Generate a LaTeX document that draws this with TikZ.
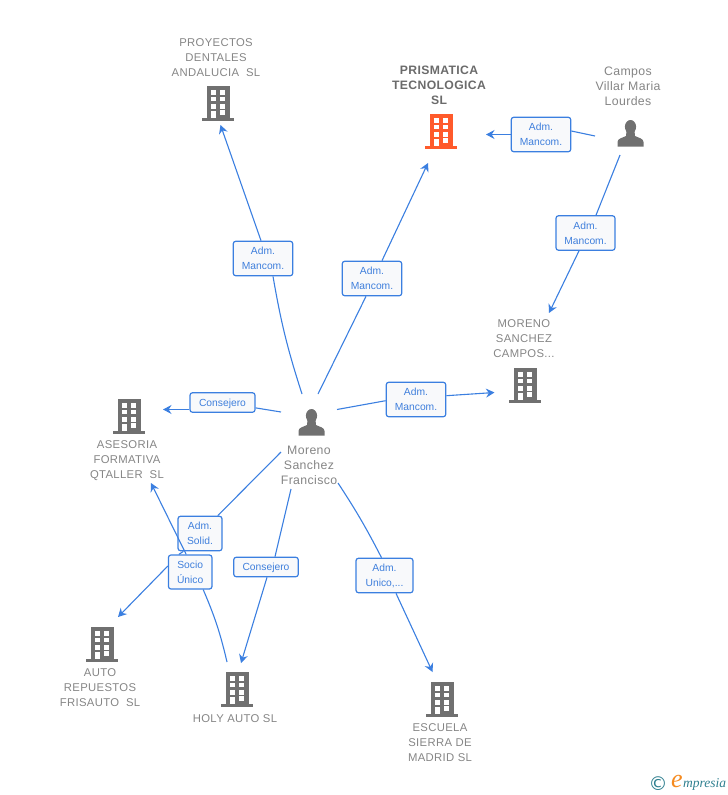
\documentclass[tikz,border=0pt]{standalone}
\usepackage{fontspec}
\setmainfont{Liberation Sans}
\newfontfamily\spaced[LetterSpace=3]{Liberation Sans}
\newfontfamily\serifit{Liberation Serif}
\newfontfamily\symfont{DejaVu Sans}
\usetikzlibrary{arrows.meta}
\definecolor{edgeblue}{HTML}{3B7FE0}
\definecolor{labelblue}{HTML}{3F7FDC}
\definecolor{txtgray}{HTML}{858585}
\definecolor{icongray}{HTML}{707070}
\definecolor{iconred}{HTML}{FF5A2B}
\definecolor{boxfill}{HTML}{F8F9FB}
\definecolor{teal}{HTML}{2F7F8F}
\definecolor{orng}{HTML}{F58A1F}
\newcommand{\lt}[1]{\raisebox{-3.9pt}[0pt][0pt]{#1}}
\tikzset{
  x=1pt,y=-1pt,
  edge/.style={draw=edgeblue,line width=1.1pt},
  arrowedge/.style={edge,-{Stealth[length=8.5pt,width=9pt,inset=2.8pt]}},
  lab/.style={draw=edgeblue,line width=1.2pt,rounded corners=2.5pt,fill=boxfill,inner sep=0pt,
     text=labelblue,align=center,font=\fontsize{10.3}{15}\selectfont},
  ent/.style={text=txtgray,align=center,inner sep=0pt,font=\spaced\fontsize{11.3}{15}\selectfont},
  entm/.style={ent,font=\spaced\fontsize{12.3}{15}\selectfont},
  entb/.style={ent,font=\spaced\bfseries\fontsize{12.2}{15}\selectfont,text=black!58},
  iconbox/.style={inner sep=0pt,minimum width=23pt,minimum height=32pt,anchor=north}
}
% building: name, centre x, top y, colour
\newcommand{\bldg}[4]{%
  \node[iconbox,fill=#4] (#1) at (#2,#3) {};
  \begin{scope}[shift={(#2,#3)}]
    \fill[#4] (-15.7,32) rectangle (15.7,34.6);
    \foreach \yy in {4,10.7,18}{
      \fill[white] (-7.5,\yy) rectangle (-2.5,\yy+4.5);
      \fill[white] (2,\yy) rectangle (7,\yy+4.5);
    }
    \fill[white] (-7.5,24.5) rectangle (-2.5,32);
    \fill[white] (2,24) rectangle (7,28.5);
  \end{scope}}
% person: name, centre x, top y
\newcommand{\persona}[3]{%
  \node[inner sep=0pt,minimum width=26pt,minimum height=27pt,anchor=north] (#1) at (#2,#3) {};
  \begin{scope}[shift={(#2,#3)}]
    \fill[icongray] (0,6.8) ellipse [x radius=5.6,y radius=6.8];
    \fill[icongray] (-13,26.5) -- (-13,22) .. controls (-13,18.5) and (-8,17.8) .. (-4.5,16) -- (-4,11)
      -- (4,11) -- (4.5,16) .. controls (8,17.8) and (13,18.5) .. (13,22) -- (13,26.5) -- cycle;
  \end{scope}}
\begin{document}
\begin{tikzpicture}
\useasboundingbox (0,0) rectangle (728,795);
% icons
\bldg{proy}{218}{86}{icongray}
\bldg{pris}{441}{114}{iconred}
\bldg{msc}{525}{368}{icongray}
\bldg{ases}{129}{399}{icongray}
\bldg{frisa}{102}{627}{icongray}
\bldg{holy}{237}{672}{icongray}
\bldg{escu}{442}{682}{icongray}
\persona{camp}{630.5}{120}
\persona{mor}{311.5}{409}
% entity texts
\node[ent] (tproy) at (216,58) {PROYECTOS\\DENTALES\\ANDALUCIA\ \ SL};
\node[entb] (tpris) at (439,85) {PRISMATICA\\TECNOLOGICA\\SL};
\node[entm] (tcamp) at (628,86) {Campos\\Villar Maria\\Lourdes};
\node[ent] (tmsc) at (524,339) {MORENO\\SANCHEZ\\CAMPOS...};
\node[ent] (tases) at (127,461) {ASESORIA\\FORMATIVA\\QTALLER\ \ SL};
\node[ent] (tfrisa) at (100,688) {AUTO\\REPUESTOS\\FRISAUTO\ \ SL};
\node[ent] (tholy) at (235,719) {HOLY AUTO SL};
\node[ent] (tescu) at (440,743) {ESCUELA\\SIERRA DE\\MADRID SL};
\node[entm] (tmor) at (309,465) {Moreno\\Sanchez\\Francisco};
% labels
\node[lab,minimum width=59.5pt,minimum height=34.5pt] (l1) at (263,258.5) {\lt{Adm.}\\\lt{Mancom.}};
\node[lab,minimum width=59.5pt,minimum height=34.5pt] (l2) at (372,278.5) {\lt{Adm.}\\\lt{Mancom.}};
\node[lab,minimum width=59.5pt,minimum height=34.5pt] (l3) at (541,134.5) {\lt{Adm.}\\\lt{Mancom.}};
\node[lab,minimum width=59pt,minimum height=34.5pt] (l4) at (585.5,233) {\lt{Adm.}\\\lt{Mancom.}};
\node[lab,minimum width=59.5pt,minimum height=34.5pt] (l5) at (416,399.5) {\lt{Adm.}\\\lt{Mancom.}};
\node[lab,minimum width=65pt,minimum height=19.5pt] (l6) at (222.5,402.5) {\lt{Consejero}};
\node[lab,minimum width=44pt,minimum height=34.5pt] (l7) at (200,533.5) {\lt{Adm.}\\\lt{Solid.}};
\node[lab,minimum width=43.5pt,minimum height=34pt] (l8) at (190.2,572) {\lt{Socio}\\\lt{Único}};
\node[lab,minimum width=64.5pt,minimum height=19.5pt] (l9) at (266,567) {\lt{Consejero}};
\node[lab,minimum width=57pt,minimum height=34.5pt] (l10) at (384.5,575.5) {\lt{Adm.}\\\lt{Unico,...}};
% free ends of connectors
\coordinate (s1) at (302,394);  \coordinate (e1) at (220.5,125);
\coordinate (s2) at (318,394);  \coordinate (e2) at (428,163);
\coordinate (s3) at (595,136);  \coordinate (e3) at (486,134.5);
\coordinate (s4) at (620,155);  \coordinate (e4) at (549,313);
\coordinate (s5) at (337,409.5);  \coordinate (e5) at (494.5,392.5);
\coordinate (s6) at (281,412);  \coordinate (e6) at (163,409.5);
\coordinate (s7) at (281,452);  \coordinate (e7) at (118,617);
\coordinate (s8) at (227,662);  \coordinate (e8) at (151,483);
\coordinate (s9) at (291,489);  \coordinate (e9) at (241,663);
\coordinate (s10) at (338,483); \coordinate (e10) at (432.5,672);
% connectors
\draw[edge] (s1) to[bend left=4] ([xshift=10pt]l1.south);
\draw[arrowedge] ([xshift=-2pt]l1.north) -- (e1);
\draw[edge] (s2) -- ([xshift=-6pt]l2.south);
\draw[arrowedge] ([xshift=10pt]l2.north) -- (e2);
\draw[edge] (s3) -- ([yshift=3.5pt]l3.east);
\draw[arrowedge] (l3.west) -- (e3);
\draw[edge] (s4) -- ([xshift=10.5pt]l4.north);
\draw[arrowedge] ([xshift=-6.5pt]l4.south) -- (e4);
\draw[edge] (s5) -- ([yshift=-1.2pt]l5.west);
\draw[arrowedge] ([yshift=3.8pt]l5.east) -- (e5);
\draw[edge] (s6) -- (l6);
\draw[arrowedge] ([yshift=-7pt]l6.west) -- (e6);
\draw[edge] (s7) -- (l7);
\draw[edge] ([xshift=6pt]l7.south west) -- ([xshift=11pt]l8.north west);
\draw[arrowedge] ([yshift=6pt]l8.west) -- (e7);
\draw[edge] (s8) to[bend right=5] ([xshift=13pt]l8.south);
\draw[arrowedge] ([xshift=-4pt]l8.north) -- (e8);
\draw[edge] (s9) -- ([xshift=9pt]l9.north);
\draw[arrowedge] ([xshift=1pt]l9.south) -- (e9);
\draw[edge] (s10) to[bend left=3] ([xshift=-3pt]l10.north);
\draw[arrowedge] ([xshift=11.5pt]l10.south) -- (e10);
% watermark
\node[inner sep=0pt,text=teal,font=\symfont\fontsize{19}{19}\selectfont] (wc) at (658,784) {©};
\node[inner sep=0pt,text=orng,font=\serifit\itshape\fontsize{26}{26}\selectfont] (we) at (677,781) {e};
\node[inner sep=0pt,text=teal,anchor=west,font=\serifit\itshape\fontsize{13.5}{14}\selectfont] (wm) at (683,784) {mpresia};
\end{tikzpicture}
\end{document}
